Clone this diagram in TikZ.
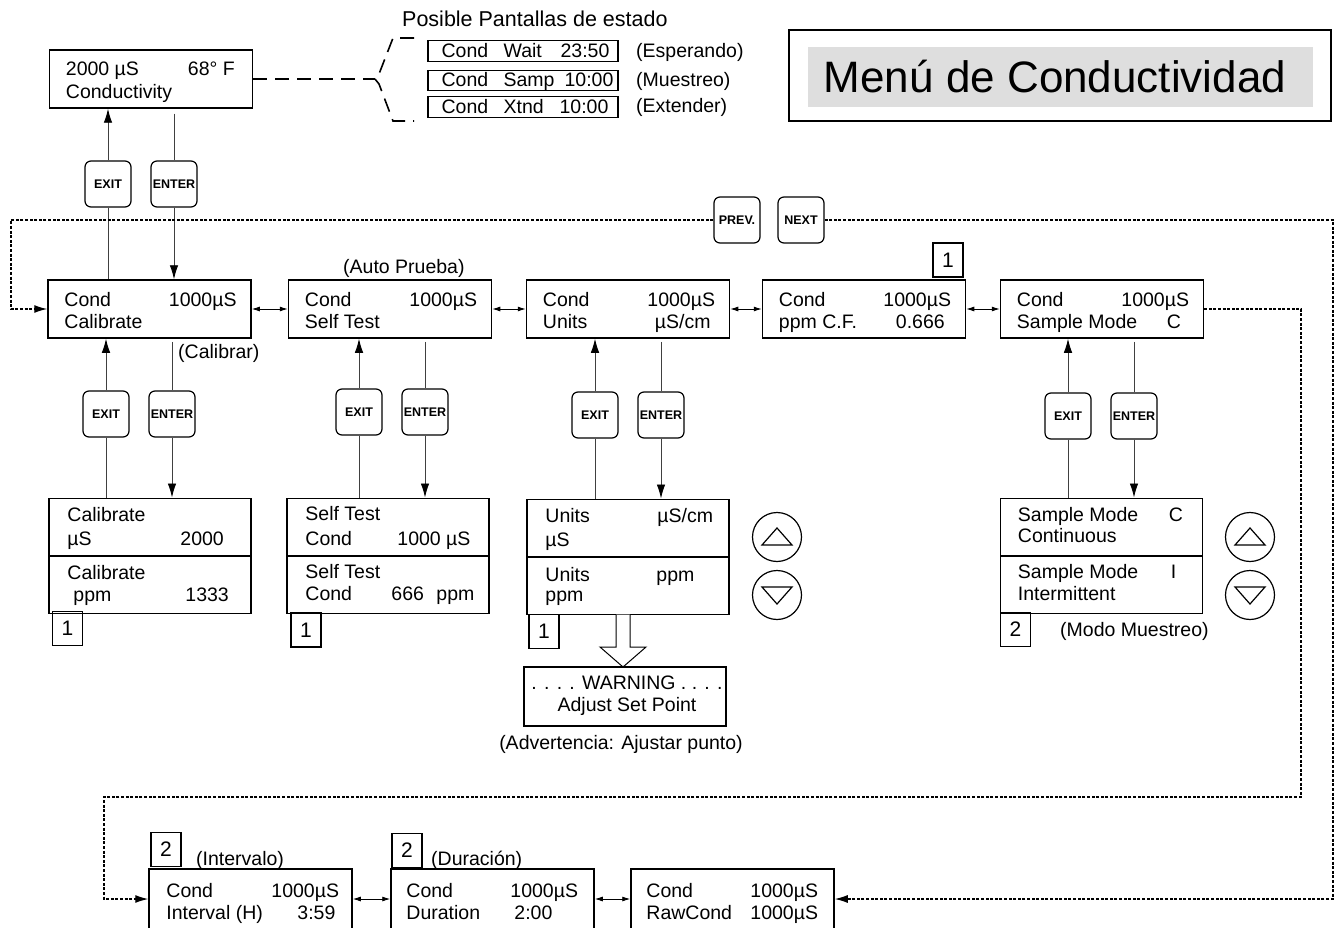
\documentclass[tikz,border=0pt]{standalone}
\usepackage{fontspec}
\setmainfont{Liberation Sans}
\usetikzlibrary{arrows.meta,calc}
\newcommand\tx[3]{\node[txt,anchor=base west] at ($(#1.north west)+#2$) {#3};}
\newcommand\txr[3]{\node[txt,anchor=base east] at ($(#1.north east)+#2$) {#3};}
\begin{document}
\begin{tikzpicture}[x=1pt,y=-1pt,
  txt/.style={font=\fontsize{19.5}{22}\selectfont,inner sep=0pt},
  lcd/.style={draw,line width=1.5pt,minimum width=203pt,minimum height=58pt,inner sep=0pt},
  pane/.style={draw,line width=1.5pt,minimum width=202pt,minimum height=57.5pt,inner sep=0pt},
  stat/.style={draw,line width=1.2pt,minimum width=190pt,minimum height=20.5pt,inner sep=0pt},
  btn/.style={draw,rounded corners=6pt,line width=1.2pt,minimum width=46pt,minimum height=46pt,inner sep=0pt,fill=white,font=\fontsize{12.5}{14}\selectfont\bfseries},
  nb/.style={draw,line width=1.1pt,minimum width=30pt,minimum height=34pt,inner sep=0pt,font=\fontsize{21}{24}\selectfont},
  ln/.style={line width=0.9pt,black!75},
  arr/.style={line width=0.9pt,black!75,-{Latex[length=14pt,width=8.5pt,color=black]}},
  dbl/.style={line width=0.9pt,{Latex[length=8pt,width=5pt]}-{Latex[length=8pt,width=5pt]}},
  dotl/.style={line width=1.2pt,dash pattern=on 3pt off 1.6pt,-{Latex[length=13pt,width=8pt]}},
  dsh/.style={line width=1.6pt,dash pattern=on 14pt off 8pt},
  updn/.style={circle,draw,line width=1.2pt,minimum size=49pt,inner sep=0pt}]
\useasboundingbox (0,0) rectangle (1336,928);
\fill[white] (0,0) rectangle (1336,928);
\clip (0,0) rectangle (1336,928);

% ---- top status display
\node[lcd] (st) at (151,79) {};
\tx{st}{(17,26)}{2000 µS}
\tx{st}{(139,26)}{68° F}
\tx{st}{(17,49)}{Conductivity}

\coordinate (br) at (375,79);
\draw[dsh] (st.east) -- (br);
\draw[dsh] (414,38) -- (393,38) -- (379,74) -- (br) -- (379,84) -- (393,121) -- (414,121);

\node[txt,font=\fontsize{21.5}{24}\selectfont,anchor=base west] (ttl) at (402,27) {Posible Pantallas de estado};
\node[stat] (s1) at (523,51) {};
\node[stat] (s2) at (523,80.5) {};
\node[stat] (s3) at (523,107) {};
\tx{s1}{(14,17)}{Cond}\tx{s1}{(76,17)}{Wait}\tx{s1}{(133,17)}{23:50}
\tx{s2}{(14,17)}{Cond}\tx{s2}{(76,17)}{Samp}\tx{s2}{(137,17)}{10:00}
\tx{s3}{(14,17)}{Cond}\tx{s3}{(76,17)}{Xtnd}\tx{s3}{(132,17)}{10:00}
\node[txt,anchor=base west] (l1) at (636,57.5) {(Esperando)};
\node[txt,anchor=base west] (l2) at (636,87) {(Muestreo)};
\node[txt,anchor=base west] (l3) at (636,113) {(Extender)};

% ---- title
\node[draw,line width=1.3pt,minimum width=542pt,minimum height=91pt,inner sep=0pt] (tb) at (1060,75.5) {};
\node[fill=black!13,minimum width=505pt,minimum height=60pt,inner sep=0pt] (tbi) at (1060.5,77) {};
\node[inner sep=0pt,anchor=base,font=\fontsize{44}{50}\selectfont] (tbt) at (1055,93) {Menú de Conductividad};

% ---- top buttons
\node[btn] (bx0) at (108,184) {EXIT};
\node[btn] (be0) at (174,184) {ENTER};
\node[btn] (prev) at (737,220) {PREV.};
\node[btn] (next) at (801,220) {NEXT};

% ---- main row
\node[lcd] (cal) at (149.5,309) {};
\node[lcd] (self) at (390,309) {};
\node[lcd] (units) at (628,309) {};
\node[lcd] (ppm) at (864,309) {};
\node[lcd] (samp) at (1102,309) {};
\tx{cal}{(17,27)}{Cond}\txr{cal}{(-15,27)}{1000µS}\tx{cal}{(17,49)}{Calibrate}
\tx{self}{(17,27)}{Cond}\txr{self}{(-15,27)}{1000µS}\tx{self}{(17,49)}{Self Test}
\tx{units}{(17,27)}{Cond}\txr{units}{(-15,27)}{1000µS}\tx{units}{(17,49)}{Units}\tx{units}{(129,49)}{µS/cm}
\tx{ppm}{(17,27)}{Cond}\txr{ppm}{(-15,27)}{1000µS}\tx{ppm}{(17,49)}{ppm C.F.}\tx{ppm}{(134,49)}{0.666}
\tx{samp}{(17,27)}{Cond}\txr{samp}{(-15,27)}{1000µS}\tx{samp}{(17,49)}{Sample Mode}\tx{samp}{(167,49)}{C}
\draw[dbl] (cal.east) -- (self.west);
\draw[dbl] (self.east) -- (units.west);
\draw[dbl] (units.east) -- (ppm.west);
\draw[dbl] (ppm.east) -- (samp.west);
\node[txt,anchor=base west] (lap) at (343,273) {(Auto Prueba)};
\node[txt,anchor=base west] (lca) at (178,358) {(Calibrar)};
\node[nb] (n1p) at (948,260) {1};

% top connectors
\draw[ln] (bx0.south) -- (bx0.south |- cal.north);
\draw[arr] (bx0.north) -- (bx0.north |- st.south);
\draw[ln] ($(be0.north |- st.south)+(0,5)$) -- (be0.north);
\draw[arr] (be0.south) -- (be0.south |- cal.north);

% ---- sub menus
\node[pane] (calA) at (150,527) {};
\node[pane] (calB) at (150,584.5) {};
\tx{calA}{(19,24)}{Calibrate}\tx{calA}{(19,48)}{µS}\tx{calA}{(132,48)}{2000}
\tx{calB}{(19,24)}{Calibrate}\tx{calB}{(25,46)}{ppm}\tx{calB}{(137,46)}{1333}
\node[pane] (selfA) at (388,527) {};
\node[pane] (selfB) at (388,584.5) {};
\tx{selfA}{(19,23)}{Self Test}\tx{selfA}{(19,48)}{Cond}\tx{selfA}{(111,48)}{1000 µS}
\tx{selfB}{(19,23)}{Self Test}\tx{selfB}{(19,45)}{Cond}\tx{selfB}{(105,45)}{666}\tx{selfB}{(150,45)}{ppm}
\node[pane] (unitsA) at (628,528) {};
\node[pane] (unitsB) at (628,585.5) {};
\tx{unitsA}{(19,24)}{Units}\tx{unitsA}{(131,24)}{µS/cm}\tx{unitsA}{(19,48)}{µS}
\tx{unitsB}{(19,25)}{Units}\tx{unitsB}{(130,25)}{ppm}\tx{unitsB}{(19,45)}{ppm}
\node[pane] (sampA) at (1101.5,527) {};
\node[pane] (sampB) at (1101.5,584.5) {};
\tx{sampA}{(18,24)}{Sample Mode}\tx{sampA}{(169,24)}{C}\tx{sampA}{(18,45)}{Continuous}
\tx{sampB}{(18,23)}{Sample Mode}\tx{sampB}{(171,23)}{I}\tx{sampB}{(18,45)}{Intermittent}

% buttons under main row
\node[btn] (bx1) at (106,414) {EXIT};
\node[btn] (be1) at (172,414) {ENTER};
\node[btn] (bx2) at (359,412) {EXIT};
\node[btn] (be2) at (425,412) {ENTER};
\node[btn] (bx3) at (595,415) {EXIT};
\node[btn] (be3) at (661,415) {ENTER};
\node[btn] (bx4) at (1068,416) {EXIT};
\node[btn] (be4) at (1134,416) {ENTER};
\foreach \i/\m/\s in {1/cal/calA,2/self/selfA,3/units/unitsA,4/samp/sampA}{
  \draw[ln] (bx\i.south) -- (bx\i.south |- \s.north);
  \draw[arr] (bx\i.north) -- (bx\i.north |- \m.south);
  \draw[ln] ($(be\i.north |- \m.south)+(0,3)$) -- (be\i.north);
  \draw[arr] (be\i.south) -- (be\i.south |- \s.north);
}

\node[nb] (n1a) at (67.5,628.5) {1};
\node[nb] (n1b) at (306,630) {1};
\node[nb] (n1c) at (544,631.5) {1};
\node[nb] (n2a) at (1015.5,629.5) {2};
\node[txt,anchor=base west] (lmm) at (1060,636) {(Modo Muestreo)};

% up/down keys
\node[updn] (up1) at (777,537) {};
\node[updn] (dn1) at (777,595) {};
\node[updn] (up2) at (1250,537) {};
\node[updn] (dn2) at (1250,595) {};
\foreach \c in {up1,up2}{
  \draw[line width=1.2pt] ($(\c.center)+(-15,8)$) -- ($(\c.center)+(15,8)$) -- ($(\c.center)+(0,-9)$) -- cycle;}
\foreach \c in {dn1,dn2}{
  \draw[line width=1.2pt] ($(\c.center)+(-15,-8)$) -- ($(\c.center)+(15,-8)$) -- ($(\c.center)+(0,9)$) -- cycle;}

% warning
\node[draw,line width=1.5pt,minimum width=202pt,minimum height=59pt,inner sep=0pt] (warn) at (625,696.5) {};
\node[txt,anchor=base] at ($(warn.north)+(2,23)$) {. . . . WARNING . . . .};
\node[txt,anchor=base] at ($(warn.north)+(2,45)$) {Adjust Set Point};
\node[txt,anchor=base] (ladv) at (621,749) {(Advertencia: Ajustar punto)};
\draw[line width=1pt,fill=white] (616,614.5) -- (616,647) -- (600,647) -- (623,667) -- (646,647) -- (630,647) -- (630,614.5);

% ---- bottom row
\node[lcd,minimum height=60pt] (int) at (250.5,899) {};
\node[lcd,minimum height=60pt] (dur) at (492.5,899) {};
\node[lcd,minimum height=60pt] (raw) at (732.5,899) {};
\tx{int}{(18,29)}{Cond}\tx{int}{(123,29)}{1000µS}\tx{int}{(18,51)}{Interval (H)}\tx{int}{(149,51)}{3:59}
\tx{dur}{(16,29)}{Cond}\tx{dur}{(120,29)}{1000µS}\tx{dur}{(16,51)}{Duration}\tx{dur}{(124,51)}{2:00}
\tx{raw}{(16,29)}{Cond}\tx{raw}{(120,29)}{1000µS}\tx{raw}{(16,51)}{RawCond}\tx{raw}{(120,51)}{1000µS}
\draw[dbl] (int.east) -- (dur.west);
\draw[dbl] (dur.east) -- (raw.west);
\node[nb] (n2b) at (166,849.5) {2};
\node[nb] (n2c) at (407,850.5) {2};
\node[txt,anchor=base west] (lint) at (196,865) {(Intervalo)};
\node[txt,anchor=base west] (ldur) at (431,865) {(Duración)};

% ---- dotted loops
\coordinate (c1) at (11,220);
\draw[dotl] (prev.west) -- (c1) |- (cal.west);
\coordinate (c2) at (1333,220);
\draw[dotl] (next.east) -- (c2) |- (raw.east);
\coordinate (c3) at (1301,309);
\coordinate (c4) at (1301,797);
\coordinate (c5) at (104,797);
\draw[dotl] (samp.east) -- (c3) -- (c4) -- (c5) |- (int.west);
\end{tikzpicture}
\end{document}
